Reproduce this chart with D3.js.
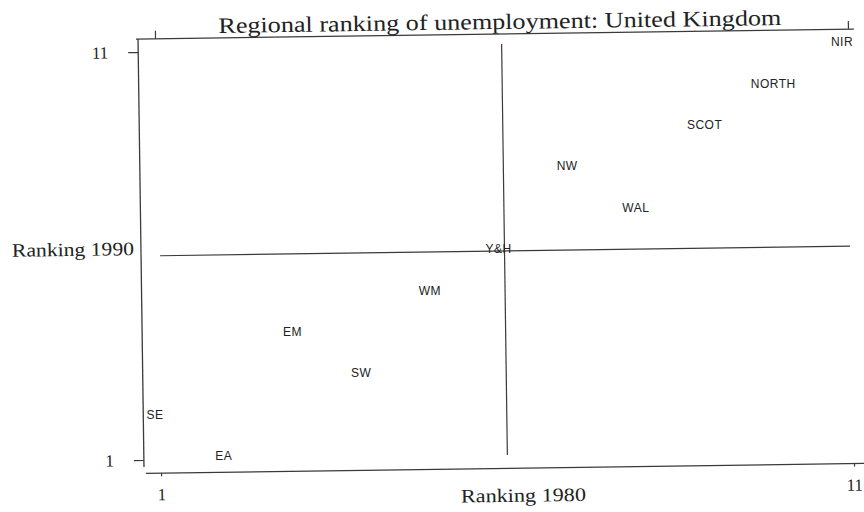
<!DOCTYPE html>
<html>
<head>
<meta charset="utf-8">
<script src="https://cdn.jsdelivr.net/npm/d3@7"></script>
<style>
  body { margin: 0; background: #fff; }
  svg { display: block; }
</style>
</head>
<body>
<div id="chart"></div>
<script>
// regional ranks of unemployment, 1 = lowest
const regions = ["SE", "EA", "SW", "EM", "WM", "Y&H", "WAL", "NW", "SCOT", "NORTH", "NIR"];
const rank1980 = [1, 2, 4, 3, 5, 6, 8, 7, 9, 10, 11];
const rank1990 = [2, 1, 3, 4, 5, 6, 7, 8, 9, 10, 11];
const tickValues = [1, 11];
const meanRank = 6;

const width = 864, height = 512;
const ink = "#3a3a3a";

const svg = d3.select("#chart").append("svg")
  .attr("width", width)
  .attr("height", height);

// the printed frame is slightly skewed on the page
const frame = svg.append("g")
  .attr("transform", "rotate(-0.8, 500, 250)");

// frame scales (axes, ticks, centre lines)
const xf = d3.scaleLinear().domain([1, 11]).range([158, 851]);
const yf = d3.scaleLinear().domain([1, 11]).range([455, 47]);

// label scales
const x = d3.scaleLinear().domain([1, 11]).range([155, 842]);
const y = d3.scaleLinear().domain([1, 11]).range([456, 42]);

const frameLeft = 141, frameTop = 34, frameBottom = 468.5;

// frame lines
frame.append("line")
  .attr("x1", frameLeft).attr("x2", frameLeft)
  .attr("y1", frameTop).attr("y2", 462)
  .attr("stroke", ink).attr("stroke-width", 1.3);
frame.append("line")
  .attr("x1", frameLeft - 2).attr("x2", 857)
  .attr("y1", frameTop).attr("y2", frameTop)
  .attr("stroke", ink).attr("stroke-width", 1.3);
frame.append("line")
  .attr("x1", 143).attr("x2", 880)
  .attr("y1", frameBottom).attr("y2", frameBottom)
  .attr("stroke", ink).attr("stroke-width", 1.3);

// centre lines at the mean rank
frame.append("line")
  .attr("x1", xf(1) + 2).attr("x2", xf(11) - 1)
  .attr("y1", yf(meanRank)).attr("y2", yf(meanRank))
  .attr("stroke", ink).attr("stroke-width", 1.2);
frame.append("line")
  .attr("x1", xf(meanRank)).attr("x2", xf(meanRank))
  .attr("y1", yf(11) - 3).attr("y2", yf(1))
  .attr("stroke", ink).attr("stroke-width", 1.2);

// axes
const axisLeft = frame.append("g")
  .attr("transform", `translate(${frameLeft},0)`)
  .call(d3.axisLeft(yf).tickValues(tickValues).tickSize(10).tickPadding(20).tickSizeOuter(0));

const axisTop = frame.append("g")
  .attr("transform", `translate(0,${frameTop})`)
  .call(d3.axisTop(xf).tickValues(tickValues).tickSize(8).tickFormat("").tickSizeOuter(0));

const axisBottom = frame.append("g")
  .attr("transform", `translate(0,${frameBottom})`)
  .call(d3.axisBottom(xf).tickValues(tickValues).tickSize(3).tickPadding(12).tickSizeOuter(0));

[axisLeft, axisTop, axisBottom].forEach(a => {
  a.select(".domain").remove();
  a.selectAll(".tick line").attr("stroke", ink).attr("stroke-width", 1.2);
  a.selectAll(".tick text")
    .attr("fill", "#222")
    .style("font-family", "'Liberation Serif', 'Times New Roman', serif")
    .style("font-size", "17px");
});

// title and axis titles
frame.append("text")
  .attr("x", 503).attr("y", 29)
  .attr("text-anchor", "middle")
  .attr("textLength", 563)
  .attr("lengthAdjust", "spacingAndGlyphs")
  .attr("fill", "#222")
  .style("font-family", "'Liberation Serif', 'Times New Roman', serif")
  .style("font-size", "22px")
  .text("Regional ranking of unemployment: United Kingdom");

frame.append("text")
  .attr("x", 520).attr("y", 502)
  .attr("text-anchor", "middle")
  .attr("textLength", 125)
  .attr("lengthAdjust", "spacingAndGlyphs")
  .attr("fill", "#222")
  .style("font-family", "'Liberation Serif', 'Times New Roman', serif")
  .style("font-size", "19px")
  .text("Ranking 1980");

frame.append("text")
  .attr("x", 73).attr("y", 250)
  .attr("text-anchor", "middle")
  .attr("textLength", 122)
  .attr("lengthAdjust", "spacingAndGlyphs")
  .attr("fill", "#222")
  .style("font-family", "'Liberation Serif', 'Times New Roman', serif")
  .style("font-size", "19px")
  .text("Ranking 1990");

// region labels
svg.append("g")
  .selectAll("text")
  .data(regions)
  .join("text")
  .attr("x", (d, i) => x(rank1980[i]))
  .attr("y", (d, i) => y(rank1990[i]))
  .attr("dy", "0.35em")
  .attr("text-anchor", "middle")
  .attr("fill", "#222")
  .style("font-family", "'Liberation Sans', Arial, sans-serif")
  .style("font-size", "12px")
  .style("letter-spacing", "0.5px")
  .text(d => d);
</script>
</body>
</html>
